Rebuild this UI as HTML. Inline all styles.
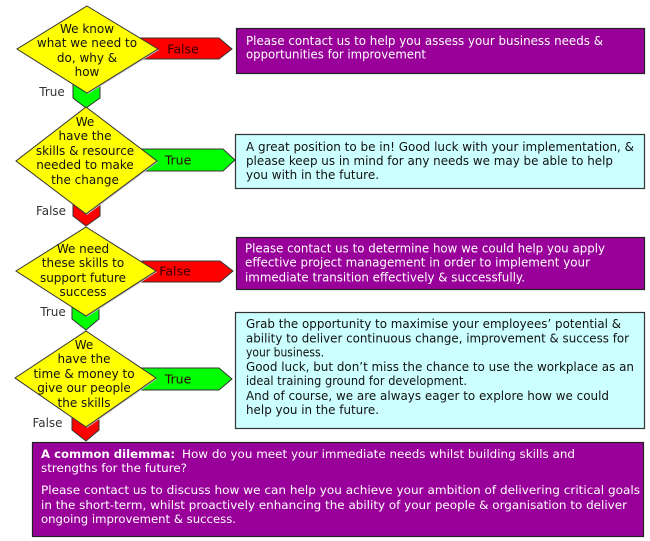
<!DOCTYPE html>
<html>
<head>
<meta charset="utf-8">
<style>
  html,body{margin:0;padding:0;background:#fff;}
  body{width:650px;height:541px;overflow:hidden;}
  svg{display:block;}
  text{font-family:"DejaVu Sans","Liberation Sans",sans-serif;}
  .dt{font-size:12px;fill:#111;text-anchor:middle;}
  .lb{font-size:12px;fill:#333;text-anchor:middle;}
  .at{font-size:12.5px;fill:#300;text-anchor:middle;}
  .pw{font-size:12px;fill:#fff;}
  .cb{font-size:12px;fill:#111;}
  .bw{font-size:11.5px;fill:#fff;}
</style>
</head>
<body>
<svg width="650" height="541" viewBox="0 0 650 541" xmlns="http://www.w3.org/2000/svg">
  <!-- Boxes -->
  <rect x="236.5" y="28.5" width="408" height="45" fill="#990099" stroke="#222" stroke-width="1.2"/>
  <rect x="235.5" y="134.5" width="409" height="54" fill="#CCFFFF" stroke="#333" stroke-width="1.2"/>
  <rect x="236.5" y="237.5" width="408" height="52" fill="#990099" stroke="#222" stroke-width="1.2"/>
  <rect x="235.5" y="312.5" width="409" height="116" fill="#CCFFFF" stroke="#333" stroke-width="1.2"/>
  <rect x="32.5" y="442.5" width="611" height="94" fill="#990099" stroke="#222" stroke-width="1.2"/>

  <!-- Horizontal arrows -->
  <polygon points="140,38 219,38 232,49 219,59 140,59" fill="#FF0000" stroke="#333" stroke-width="1"/>
  <polygon points="142,149 223,149 235,160 223,171 142,171" fill="#00FF00" stroke="#333" stroke-width="1"/>
  <polygon points="142,261 220,261 233,271 220,282 142,282" fill="#FF0000" stroke="#333" stroke-width="1"/>
  <polygon points="142,368 219,368 232,379 219,390 142,390" fill="#00FF00" stroke="#333" stroke-width="1"/>

  <!-- Vertical arrows -->
  <polygon points="73,82 100,82 100,98 86,108 73,98" fill="#00FF00" stroke="#333" stroke-width="1"/>
  <polygon points="73,203 100,203 100,216 86,226 73,216" fill="#FF0000" stroke="#333" stroke-width="1"/>
  <polygon points="72,304 99,304 99,319 86,330 72,319" fill="#00FF00" stroke="#333" stroke-width="1"/>
  <polygon points="72,413 99,413 99,430 86,441 72,430" fill="#FF0000" stroke="#333" stroke-width="1"/>

  <!-- Diamond shadows -->
  <polygon points="88,7 159,50 88,94 18,50" fill="#c4c4c4"/>
  <polygon points="87,108 158,162 87,215 17,162" fill="#c4c4c4"/>
  <polygon points="87,228 157,272 87,317 17,272" fill="#c4c4c4"/>
  <polygon points="87,332 157,379 87,428 16,379" fill="#c4c4c4"/>
  <!-- Diamonds -->
  <polygon points="87,6 158,49 87,93 17,49" fill="#FFFF00" stroke="#333" stroke-width="1"/>
  <polygon points="86,107 157,161 86,214 16,161" fill="#FFFF00" stroke="#333" stroke-width="1"/>
  <polygon points="86,227 156,271 86,316 16,271" fill="#FFFF00" stroke="#333" stroke-width="1"/>
  <polygon points="86,331 156,378 86,427 15,378" fill="#FFFF00" stroke="#333" stroke-width="1"/>

  <!-- Diamond text -->
  <text class="dt" x="87" y="33">We know</text>
  <text class="dt" x="87" y="47">what we need to</text>
  <text class="dt" x="87" y="62">do, why &amp;</text>
  <text class="dt" x="87" y="76">how</text>

  <text class="dt" x="85" y="126">We</text>
  <text class="dt" x="85" y="140">have the</text>
  <text class="dt" x="85" y="155">skills &amp; resource</text>
  <text class="dt" x="85" y="169">needed to make</text>
  <text class="dt" x="85" y="184">the change</text>

  <text class="dt" x="83" y="253">We need</text>
  <text class="dt" x="83" y="267">these skills to</text>
  <text class="dt" x="83" y="282">support future</text>
  <text class="dt" x="83" y="296">success</text>

  <text class="dt" x="84" y="349">We</text>
  <text class="dt" x="84" y="363">have the</text>
  <text class="dt" x="84" y="378">time &amp; money to</text>
  <text class="dt" x="84" y="392">give our people</text>
  <text class="dt" x="84" y="407">the skills</text>

  <!-- Side labels -->
  <text class="lb" x="52" y="96">True</text>
  <text class="lb" x="51" y="215">False</text>
  <text class="lb" x="53" y="316">True</text>
  <text class="lb" x="47.5" y="427">False</text>

  <!-- Arrow labels -->
  <text class="at" x="183" y="53.5">False</text>
  <text class="at" x="178" y="164.5">True</text>
  <text class="at" x="175" y="275.5">False</text>
  <text class="at" x="178" y="383.5">True</text>

  <!-- Box 1 -->
  <text class="pw" x="246" y="45" textLength="357" lengthAdjust="spacingAndGlyphs">Please contact us to help you assess your business needs &amp;</text>
  <text class="pw" x="246" y="58.5" textLength="180" lengthAdjust="spacingAndGlyphs">opportunities for improvement</text>

  <!-- Box 2 -->
  <text class="cb" x="246" y="151" textLength="388" lengthAdjust="spacingAndGlyphs">A great position to be in! Good luck with your implementation, &amp;</text>
  <text class="cb" x="246" y="165" textLength="367" lengthAdjust="spacingAndGlyphs">please keep us in mind for any needs we may be able to help</text>
  <text class="cb" x="246" y="179" textLength="133" lengthAdjust="spacingAndGlyphs">you with in the future.</text>

  <!-- Box 3 -->
  <text class="pw" x="245" y="252.5" textLength="360" lengthAdjust="spacingAndGlyphs">Please contact us to determine how we could help you apply</text>
  <text class="pw" x="245" y="266.5" textLength="345" lengthAdjust="spacingAndGlyphs">effective project management in order to implement your</text>
  <text class="pw" x="245" y="281.5" textLength="280" lengthAdjust="spacingAndGlyphs">immediate transition effectively &amp; successfully.</text>

  <!-- Box 4 -->
  <text class="cb" x="246" y="328" textLength="375" lengthAdjust="spacingAndGlyphs">Grab the opportunity to maximise your employees’ potential &amp;</text>
  <text class="cb" x="246" y="342.5" textLength="383" lengthAdjust="spacingAndGlyphs">ability to deliver continuous change, improvement &amp; success for</text>
  <text class="cb" x="246" y="356.5" textLength="78" lengthAdjust="spacingAndGlyphs">your business.</text>
  <text class="cb" x="246" y="371" textLength="388" lengthAdjust="spacingAndGlyphs">Good luck, but don’t miss the chance to use the workplace as an</text>
  <text class="cb" x="246" y="385" textLength="221" lengthAdjust="spacingAndGlyphs">ideal training ground for development.</text>
  <text class="cb" x="246" y="400" textLength="363" lengthAdjust="spacingAndGlyphs">And of course, we are always eager to explore how we could</text>
  <text class="cb" x="246" y="414" textLength="133" lengthAdjust="spacingAndGlyphs">help you in the future.</text>

  <!-- Box 5 -->
  <text class="bw" x="41" y="458" font-weight="bold" textLength="134" lengthAdjust="spacingAndGlyphs">A common dilemma:</text>
  <text class="bw" x="182" y="458" textLength="393" lengthAdjust="spacingAndGlyphs">How do you meet your immediate needs whilst building skills and</text>
  <text class="bw" x="41" y="472" textLength="146" lengthAdjust="spacingAndGlyphs">strengths for the future?</text>
  <text class="bw" x="41" y="494" textLength="599" lengthAdjust="spacingAndGlyphs">Please contact us to discuss how we can help you achieve your ambition of delivering critical goals</text>
  <text class="bw" x="41" y="509" textLength="586" lengthAdjust="spacingAndGlyphs">in the short-term, whilst proactively enhancing the ability of your people &amp; organisation to deliver</text>
  <text class="bw" x="41" y="523" textLength="195" lengthAdjust="spacingAndGlyphs">ongoing improvement &amp; success.</text>
</svg>
</body>
</html>
